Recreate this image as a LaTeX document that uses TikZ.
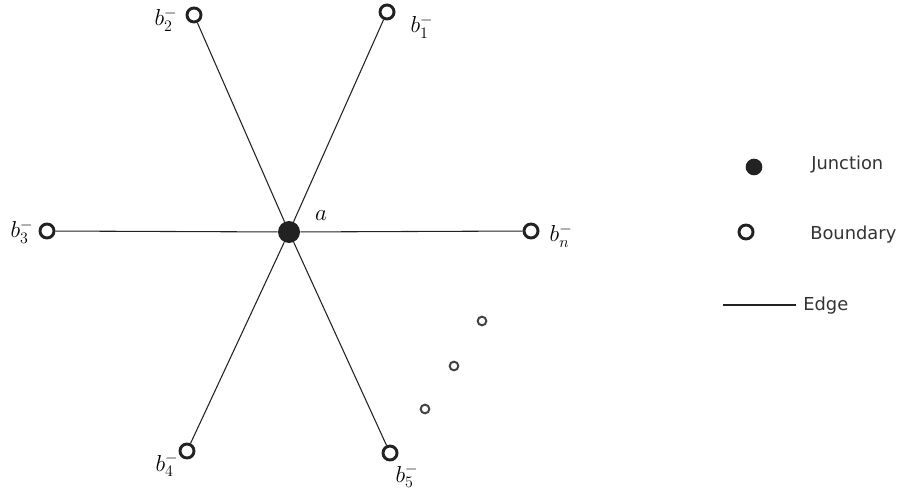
\documentclass[tikz,border=0pt]{standalone}
\usepackage{fontspec}
\newfontfamily\legendfont{DejaVu Sans}
\definecolor{ink}{HTML}{222222}
\definecolor{legtxt}{HTML}{333333}
\tikzset{
  bnd/.style={circle,draw=ink,line width=2.2pt,minimum size=10.5pt,inner sep=0pt},
  junc/.style={circle,fill=ink,minimum size=16.5pt,inner sep=0pt},
  ljunc/.style={circle,fill=ink,minimum size=12.5pt,inner sep=0pt},
  tiny/.style={circle,draw=ink!85,line width=1.5pt,minimum size=6.5pt,inner sep=0pt},
  edge/.style={draw=ink,line width=0.8pt},
  lbl/.style={inner sep=0pt,font=\fontsize{16.5}{19}\selectfont},
  legtext/.style={inner sep=0pt,anchor=west,text=legtxt,font=\legendfont\fontsize{13.4}{15}\selectfont}
}
\begin{document}
\begin{tikzpicture}[x=0.75pt,y=-0.75pt]
\useasboundingbox (0,0) rectangle (898,491);
% nodes
\node[junc] (a) at (289,232) {};
\node[bnd] (b1) at (387,12) {};
\node[bnd] (b2) at (194,15) {};
\node[bnd] (b3) at (47,231) {};
\node[bnd] (bn) at (531,231) {};
\node[bnd] (b4) at (187,451) {};
\node[bnd] (b5) at (390,453) {};
\node[tiny] (d1) at (482,321) {};
\node[tiny] (d2) at (454,366) {};
\node[tiny] (d3) at (425,409) {};
% edges
\foreach \t in {b1,b2,b3,bn,b4,b5} \draw[edge] (a) -- (\t);
% labels
\node[lbl] (la) at (321,216) {$a$};
\node[lbl] (l1) at (422,27) {$b_1^-$};
\node[lbl] (l2) at (166,20) {$b_2^-$};
\node[lbl] (l3) at (22,232) {$b_3^-$};
\node[lbl] (ln) at (561,236) {$b_n^-$};
\node[lbl] (l4) at (167,465) {$b_4^-$};
\node[lbl] (l5) at (407,476) {$b_5^-$};
% legend
\node[ljunc] (lj) at (754,167) {};
\node[legtext] (tj) at (811,165) {Junction};
\node[bnd] (lb) at (746,232) {};
\node[legtext] (tb) at (810,235) {Boundary};
\coordinate (e1) at (723,305);
\coordinate (e2) at (796,305);
\draw[edge] (e1) -- (e2);
\node[legtext] (te) at (803,306) {Edge};
\end{tikzpicture}
\end{document}
